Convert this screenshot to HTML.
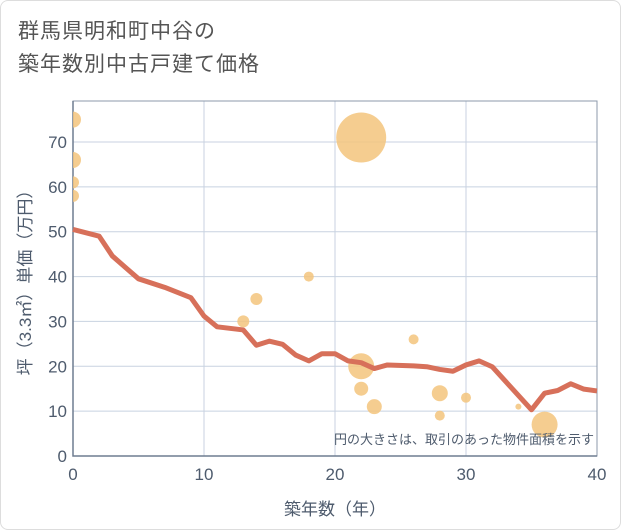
<!DOCTYPE html>
<html><head><meta charset="utf-8"><style>
body{margin:0;background:#fff;font-family:"Liberation Sans","Noto Sans CJK JP",sans-serif;}
#wrap{position:relative;width:619px;height:528px;border:1px solid #ddd;border-radius:8px;background:#fff;}
.title{position:absolute;left:17px;top:14px;font-size:21px;line-height:33px;color:#555;letter-spacing:1px;}
</style></head><body>
<div id="wrap">
<div class="title">群馬県明和町中谷の<br>築年数別中古戸建て価格</div>
<svg id="c" width="621" height="530" style="position:absolute;left:0;top:0"><defs><clipPath id="pc"><rect x="72" y="100" width="524" height="355"/></clipPath></defs></svg>
</div>
<script>
const lineYears=[0,2,3,5,7,9,10,11,13,14,15,16,17,18,19,20,21,22,23,24,26,27,28,29,30,31,32,35,36,37,38,39,40];
const lineValues=[50.5,49,44.6,39.5,37.6,35.3,31.2,28.8,28.1,24.7,25.6,24.9,22.5,21.2,22.8,22.8,21.2,20.8,19.5,20.3,20.1,19.9,19.3,18.9,20.3,21.2,19.9,10.3,14,14.6,16.1,14.9,14.5];
const bubbleYears=[0,0,0,0,22,18,14,13,26,22,22,23,28,28,30,34,36];
const bubbleValues=[75,66,61,58,71,40,35,30,26,20,15,11,14,9,13,11,7];
const bubbleSizes=[8,8,6,6,25,5,6,6,5,13,7,7.5,8,5,5,3,13];
const xTicks=[0,10,20,30,40];
const yTicks=[0,10,20,30,40,50,60,70];
const NS="http://www.w3.org/2000/svg";
const svg=document.getElementById('c');
const L=72,R=596,T=100,B=455;
const TXT='#4e5b6d';
const X=v=>L+(R-L)*v/40;
const Y=v=>B-(B-141)*v/70;
function mk(t,a){const e=document.createElementNS(NS,t);for(const k in a)e.setAttribute(k,a[k]);svg.appendChild(e);return e;}
xTicks.forEach(t=>{const g=mk('line',{x1:X(t),x2:X(t),y1:T,y2:B,stroke:'#c8d2e0','stroke-width':1});


const tx=mk('text',{x:X(t),y:B+24,'text-anchor':'middle','font-size':17,fill:TXT});tx.textContent=t;

});
yTicks.forEach(t=>{const g=mk('line',{x1:L,x2:R,y1:Y(t),y2:Y(t),stroke:'#c8d2e0','stroke-width':1});


const tx=mk('text',{x:L-6,y:Y(t)+6,'text-anchor':'end','font-size':17,fill:TXT});tx.textContent=t;

});
const fr=mk('rect',{x:L,y:T,width:R-L,height:B-T,fill:'none',stroke:'#8d9aab','stroke-width':1});


const ax=mk('polyline',{points:L+','+T+' '+L+','+B+' '+R+','+B,fill:'none',stroke:'#6f7d90','stroke-width':1.5});


bubbleYears.forEach((yr,i)=>{const c=mk('circle',{cx:X(yr),cy:Y(bubbleValues[i]),r:bubbleSizes[i],fill:'#f3c47c','fill-opacity':0.85,'clip-path':'url(#pc)'});

});
const p=mk('polyline',{points:lineYears.map((yr,i)=>X(yr)+','+Y(lineValues[i])).join(' '),fill:'none',stroke:'#d7705a','stroke-width':5,'stroke-linejoin':'round'});


const note=mk('text',{x:593,y:443,'text-anchor':'end','font-size':13,fill:TXT});note.textContent='円の大きさは、取引のあった物件面積を示す';


const xt=mk('text',{x:(L+R)/2,y:514,'text-anchor':'middle','font-size':17,fill:TXT});xt.textContent='築年数（年）';


const yt=mk('text',{x:0,y:0,'text-anchor':'middle','font-size':17,fill:TXT,transform:'translate(30,'+((T+B)/2)+') rotate(-90)'});yt.textContent='坪（3.3㎡）単価（万円）';


</script>
</body></html>
